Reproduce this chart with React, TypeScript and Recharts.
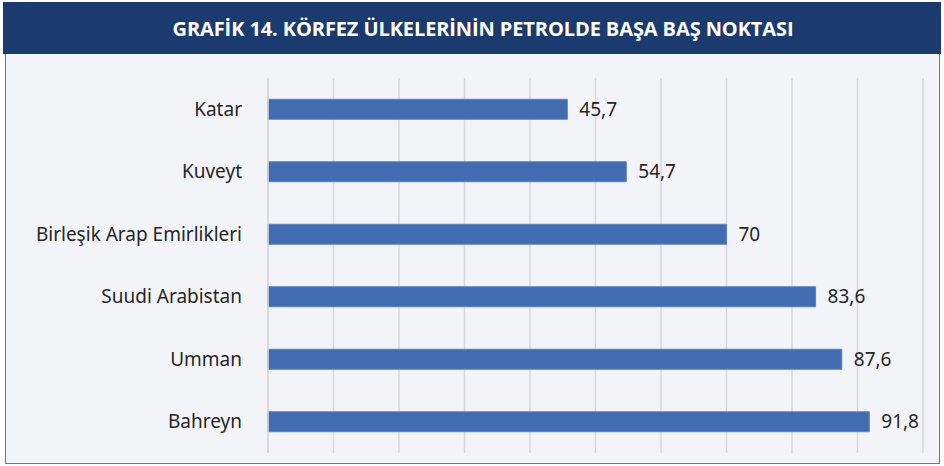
import React from 'react'
import { BarChart, Bar, XAxis, YAxis, CartesianGrid, LabelList } from 'recharts'

const countries = ['Katar', 'Kuveyt', 'Birleşik Arap Emirlikleri', 'Suudi Arabistan', 'Umman', 'Bahreyn']
const breakEven = [45.7, 54.7, 70, 83.6, 87.6, 91.8]
const xTicks = [0, 10, 20, 30, 40, 50, 60, 70, 80, 90, 100]

const data = countries.map((name, i) => ({ name, value: breakEven[i] }))

const fmt = (v: any) => String(v).replace('.', ',')

const App: React.FC = () => {
  return (
    <div style={{ position: 'absolute', left: 0, top: 0, width: 944, height: 466, background: '#fff' }}>
      <div
        style={{
          position: 'absolute', left: 3, top: 2, width: 916, height: 52, background: '#1b3b6e', paddingLeft: 22,
          color: '#fff', fontFamily: 'Open Sans', fontWeight: 700, fontSize: 20,
          display: 'flex', alignItems: 'center', justifyContent: 'center', letterSpacing: -0.1,
        }}
      >
        GRAFİK 14. KÖRFEZ ÜLKELERİNİN PETROLDE BAŞA BAŞ NOKTASI
      </div>
      <div
        style={{
          position: 'absolute', left: 5, top: 54, width: 933, height: 409, background: '#f3f4f8',
          borderLeft: '1.5px solid #5a7aab', borderRight: '1.5px solid #5a7aab', borderBottom: '1.5px solid #5a7aab',
        }}
      >
        <BarChart
          width={932}
          height={409}
          layout='vertical'
          data={data}
          margin={{ top: 24, right: 15, bottom: 10, left: 0 }}
          barCategoryGap='66%'
        >
          <CartesianGrid horizontal={false} stroke='#d9d9d9' strokeWidth={1.5} />
          <XAxis type='number' domain={[0, 100]} ticks={xTicks} hide />
          <YAxis
            type='category'
            dataKey='name'
            width={262}
            tickLine={false}
            axisLine={{ stroke: '#d9d9d9', strokeWidth: 1.5 }}
            tickMargin={20}
            tick={{ fill: '#262626', fontSize: 19, fontFamily: 'Noto Sans' }}
          />
          <Bar dataKey='value' fill='#416cb1' stroke='#5a82c2' strokeWidth={1} isAnimationActive={false}>
            <LabelList
              dataKey='value'
              position='right'
              offset={12}
              formatter={fmt}
              style={{ fill: '#262626', fontSize: 19, fontFamily: 'Noto Sans' }}
            />
          </Bar>
        </BarChart>
      </div>
    </div>
  )
}

export default App
